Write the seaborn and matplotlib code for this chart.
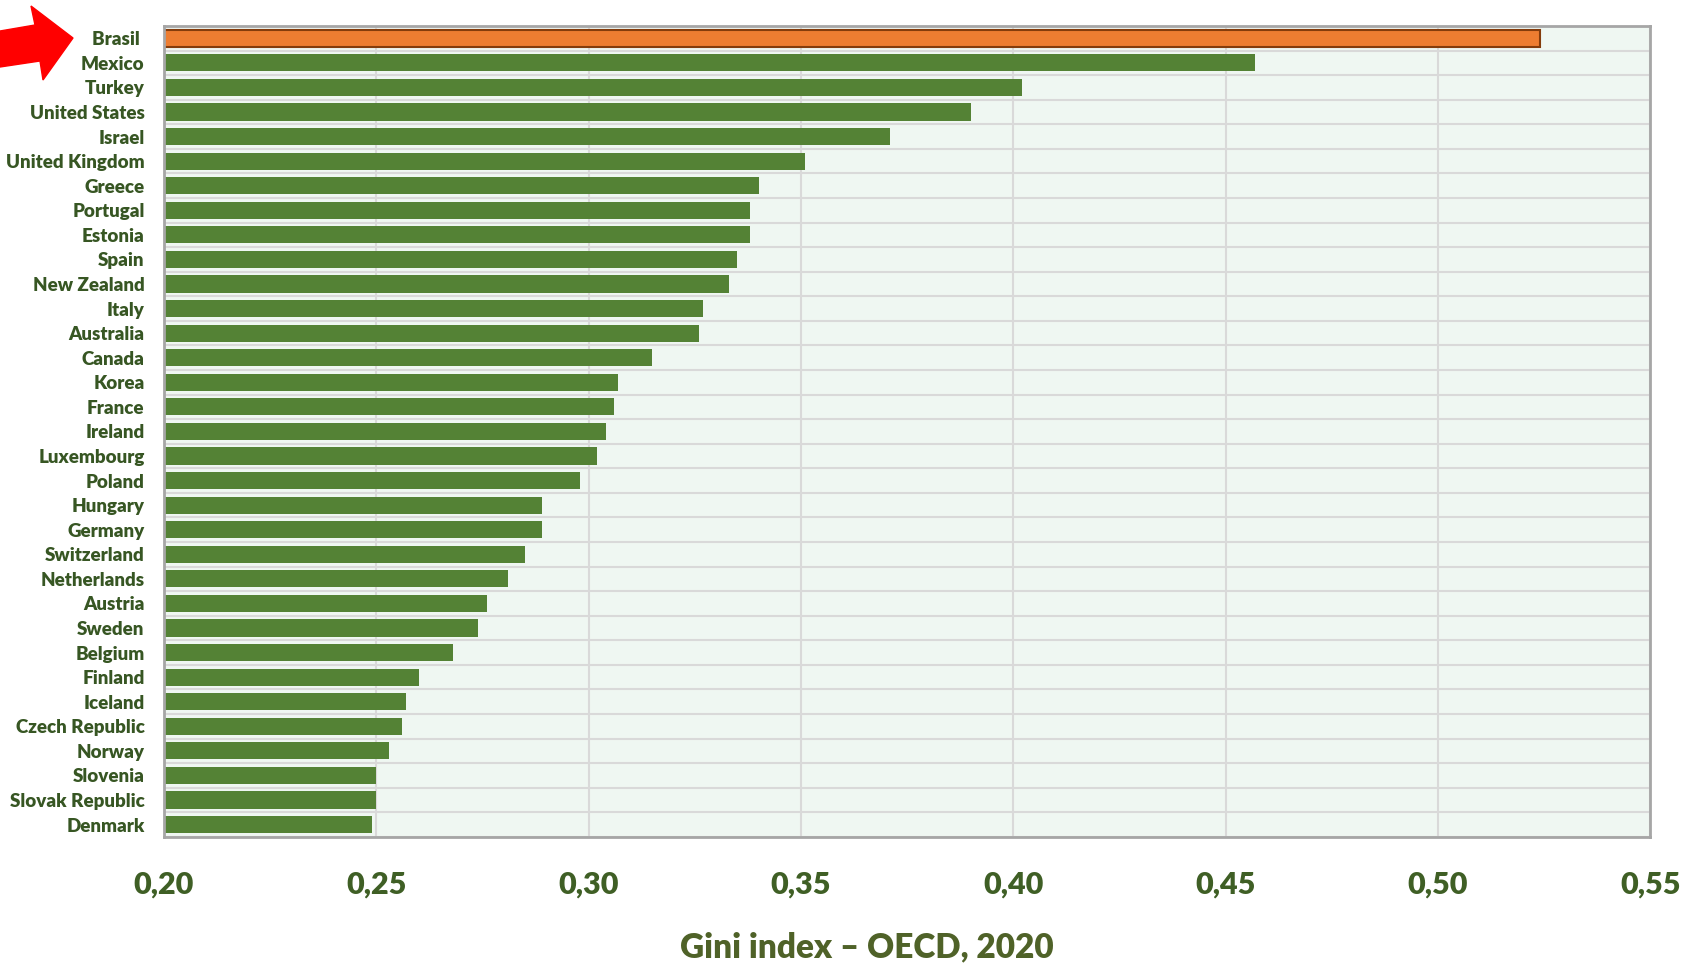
import numpy as np
import pandas as pd
import matplotlib.pyplot as plt
import seaborn as sb
from matplotlib.patches import Polygon

countries = ["Brasil ", "Mexico", "Turkey", "United States", "Israel", "United Kingdom",
             "Greece", "Portugal", "Estonia", "Spain", "New Zealand", "Italy", "Australia",
             "Canada", "Korea", "France", "Ireland", "Luxembourg", "Poland", "Hungary",
             "Germany", "Switzerland", "Netherlands", "Austria", "Sweden", "Belgium",
             "Finland", "Iceland", "Czech Republic", "Norway", "Slovenia", "Slovak Republic",
             "Denmark"]
gini = [0.524, 0.457, 0.402, 0.390, 0.371, 0.351,
        0.340, 0.338, 0.338, 0.335, 0.333, 0.327, 0.326,
        0.315, 0.307, 0.306, 0.304, 0.302, 0.298, 0.289,
        0.289, 0.285, 0.281, 0.276, 0.274, 0.268,
        0.260, 0.257, 0.256, 0.253, 0.250, 0.250,
        0.249]
xticks = [0.20, 0.25, 0.30, 0.35, 0.40, 0.45, 0.50, 0.55]
xtick_labels = ["0,20", "0,25", "0,30", "0,35", "0,40", "0,45", "0,50", "0,55"]

df = pd.DataFrame({"country": countries, "gini": gini})
df["group"] = ["br" if c.strip() == "Brasil" else "oecd" for c in countries]

sb.set_style("white")
plt.rcParams['font.family'] = ['Lato', 'DejaVu Sans']

fig = plt.figure(figsize=(16.98, 9.63), dpi=100)
ax = fig.add_axes([0.0966, 0.131, 0.8754, 0.842])
ax.set_facecolor("#EFF7F2")

sb.barplot(data=df, x="gini", y="country", hue="group",
           palette={"br": "#ED7D31", "oecd": "#548235"},
           dodge=False, legend=False, width=0.7, ax=ax, saturation=1)

for bar, g in zip(ax.patches, df["group"]):
    if g == "br":
        bar.set_edgecolor("#843C0C")
        bar.set_linewidth(1.5)
    else:
        bar.set_edgecolor("none")

n = len(countries)
ax.set_xlim(0.20, 0.55)
ax.set_ylim(n - 0.5, -0.5)
ax.set_xticks(xticks, xtick_labels)
ax.set_yticks(np.arange(-0.5, n, 1.0), minor=True)
ax.grid(axis="x", which="major", color="#D9D9D9", linewidth=1.5)
ax.grid(axis="y", which="minor", color="#D9D9D9", linewidth=1.5)
ax.set_axisbelow(True)
ax.tick_params(axis="y", which="both", length=0, pad=14)
ax.tick_params(axis="x", length=0, pad=24)

for lab in ax.get_yticklabels():
    lab.set_fontsize(13.5)
    lab.set_fontweight("heavy")
    lab.set_color("#375623")
for lab in ax.get_xticklabels():
    lab.set_fontsize(22)
    lab.set_fontweight("heavy")
    lab.set_color("#3F5F25")

for s in ["left", "bottom", "right", "top"]:
    ax.spines[s].set_color("#A6A6A6")
    ax.spines[s].set_linewidth(2)

ax.set_ylabel("")
ax.set_xlabel("Gini index \u2013 OECD, 2020", fontsize=24, fontweight="heavy",
              color="#4F6228")
ax.xaxis.set_label_coords(0.473, -0.116)

# red arrow pointing at Brasil
W, H = 1698, 963
pts = [(0, 31), (35, 25), (31, 6), (73, 38), (43, 80), (40, 61), (0, 67)]
arrow = Polygon([(x / W, 1 - y / H) for x, y in pts], closed=True,
                transform=fig.transFigure, color="#FF0000", zorder=10)
fig.patches.append(arrow)

plt.savefig("out.png", dpi=100)
